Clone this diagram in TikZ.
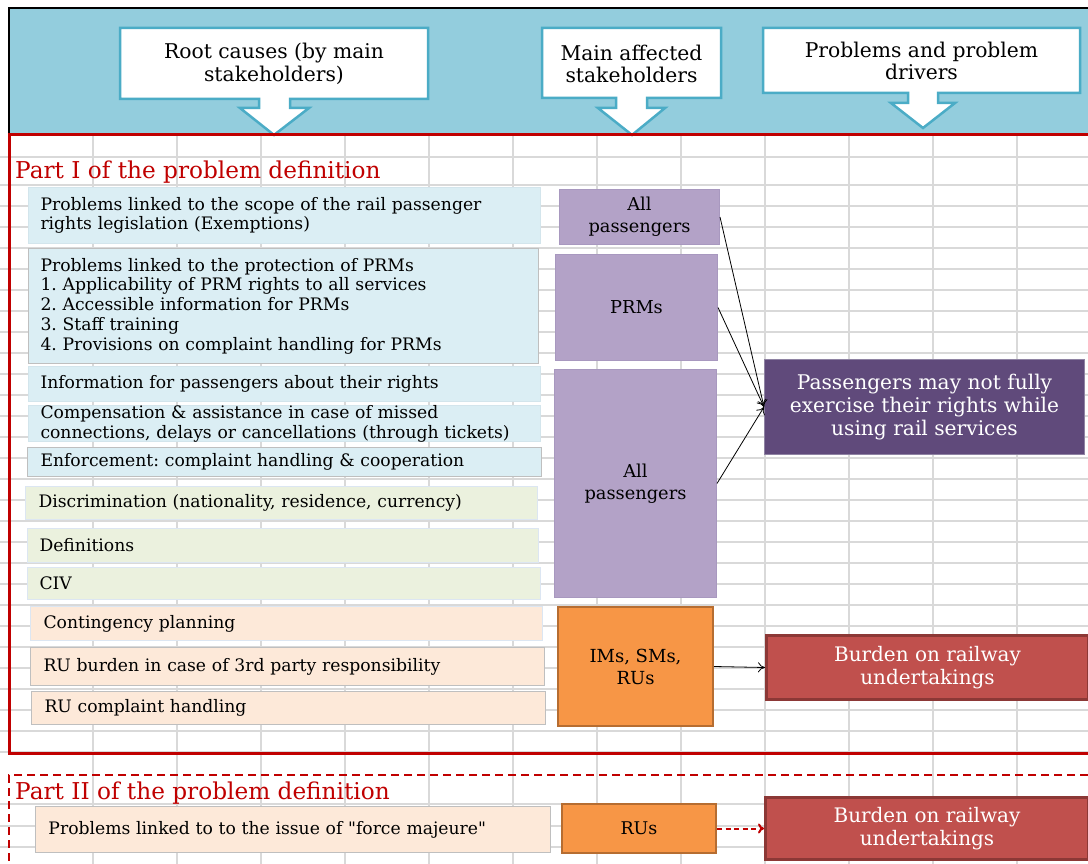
\documentclass[tikz,border=0pt]{standalone}
\usepackage{fontspec}
\setmainfont{DejaVu Serif}
\usetikzlibrary{arrows.meta}
\frenchspacing
\definecolor{hdrblue}{HTML}{93CDDD}
\definecolor{callblue}{HTML}{4BACC6}
\definecolor{partred}{HTML}{C00000}
\definecolor{gridgray}{HTML}{D9D9D9}
\definecolor{lblue}{HTML}{DBEEF4}
\definecolor{lblueedge}{HTML}{D3E5EC}
\definecolor{lgreen}{HTML}{EBF1DE}
\definecolor{lpeach}{HTML}{FDE9D9}
\definecolor{paleedge}{HTML}{DCE6F2}
\definecolor{lpurple}{HTML}{B3A2C7}
\definecolor{lpurpleedge}{HTML}{A898BF}
\definecolor{orng}{HTML}{F79646}
\definecolor{orngdk}{HTML}{B66D31}
\definecolor{dpurple}{HTML}{604A7B}
\definecolor{dpurpleedge}{HTML}{8F83A3}
\definecolor{rd}{HTML}{C0504D}
\definecolor{rddk}{HTML}{8C3836}
\definecolor{boxgray}{HTML}{BFBFBF}
\begin{document}
\frenchspacing
\begin{tikzpicture}[x=1pt,y=-1pt,
  gridline/.style={gridgray, line width=1.5pt},
  callout/.style={fill=white, draw=callblue, line width=2.5pt, line join=miter},
  hdr/.style={align=center, inner sep=0pt, font=\fontsize{20.3}{22.5}\selectfont},
  cause/.style={rectangle, anchor=north west, align=left, inner ysep=0pt, line width=1pt, font=\fontsize{17.2}{19.7}\selectfont},
  stake/.style={rectangle, anchor=north west, align=center, inner sep=0pt, fill=lpurple, draw=lpurpleedge, line width=1pt, font=\fontsize{17.8}{22}\selectfont},
  orbox/.style={rectangle, anchor=north west, align=center, inner sep=0pt, fill=orng, draw=orngdk, line width=2pt, font=\fontsize{18}{22}\selectfont},
  redbox/.style={rectangle, anchor=north west, align=center, inner sep=0pt, fill=rd, draw=rddk, line width=3pt, text=white, font=\fontsize{20}{23}\selectfont},
  parttitle/.style={anchor=base west, inner sep=0pt, text=partred, font=\fontsize{23.2}{26}\selectfont},
  conn/.style={black, line width=0.8pt, -{To[length=7pt,width=10pt]}},
  dconn/.style={partred, line width=2pt, dash pattern=on 5pt off 3.5pt, -{To[length=6pt,width=10pt]}}
]
\useasboundingbox (0,0) rectangle (1088,864);
\fill[white] (0,0) rectangle (1088,864);

% grid
\foreach \x in {93,177,...,1017} \draw[gridline] (\x,135) -- (\x,864);
\foreach \y in {157,185,206,227,...,752,804,826,847} \draw[gridline] (0,\y) -- (1088,\y);

% header band
\fill[hdrblue] (9,8) rectangle (1088,135);
\draw[black, line width=2pt] (1088,8) -- (9,8) -- (9,135);

% callouts
\draw[callout] (120,28) -- (428,28) -- (428,99) -- (290,99) -- (290,108) -- (309,108) -- (274,135) -- (240,108) -- (259,108) -- (259,99) -- (120,99) -- cycle;
\node[hdr] (h1) at (274,64) {Root causes (by main\\stakeholders)};
\draw[callout] (542,28) -- (721,28) -- (721,98) -- (647,98) -- (647,108) -- (665,108) -- (632,135) -- (598,108) -- (616,108) -- (616,98) -- (542,98) -- cycle;
\node[hdr] (h2) at (631.5,64) {Main affected\\stakeholders};
\draw[callout] (763,28) -- (1080,28) -- (1080,93) -- (938,93) -- (938,103) -- (955,103) -- (923,128) -- (891,103) -- (908,103) -- (908,93) -- (763,93) -- cycle;
\node[hdr] (h3) at (921.5,61) {Problems and problem\\drivers};

% frames
\draw[partred, line width=3pt] (1088,135) -- (9,135) -- (9,753) -- (1088,753);
\draw[partred, line width=2.5pt, dash pattern=on 8pt off 5pt] (1088,775) -- (9,775) -- (9,864);

% titles
\node[parttitle] (p1) at (15,179) {Part I of the problem definition};
\node[parttitle] (p2) at (15,799) {Part II of the problem definition};

% root causes
\node[cause, fill=lblue, draw=lblueedge, minimum height=56, text width=488, inner xsep=12] (scope) at (28,187) {Problems linked to the scope of the rail passenger\\rights legislation (Exemptions)};
\node[cause, fill=lblue, draw=boxgray, minimum height=115, text width=486, inner xsep=12] (prm) at (28,248) {Problems linked to the protection of PRMs\\1. Applicability of PRM rights to all services\\2. Accessible information for PRMs\\3. Staff training\\4. Provisions on complaint handling for PRMs};
\node[cause, fill=lblue, draw=lblueedge, minimum height=35, text width=488, inner xsep=12] (info) at (28,366) {Information for passengers about their rights};
\node[cause, fill=lblue, draw=lblueedge, minimum height=35, text width=488, inner xsep=12, font=\fontsize{17.2}{19.5}\selectfont] (comp) at (28,405) {Compensation \& assistance in case of missed\\connections, delays or cancellations (through tickets)};
\node[cause, fill=lblue, draw=boxgray, minimum height=29, text width=488, inner xsep=13] (enf) at (27,447) {Enforcement: complaint handling \& cooperation};
\node[cause, fill=lgreen, draw=paleedge, minimum height=33, text width=486, inner xsep=13] (disc) at (25,486) {Discrimination (nationality, residence, currency)};
\node[cause, fill=lgreen, draw=paleedge, minimum height=34, text width=487, inner xsep=12] (defs) at (27,528) {Definitions};
\node[cause, fill=lgreen, draw=paleedge, minimum height=32, text width=489, inner xsep=12] (civ) at (27,567) {CIV};
\node[cause, fill=lpeach, draw=paleedge, minimum height=34, text width=486, inner xsep=13] (cont) at (30,606) {Contingency planning};
\node[cause, fill=lpeach, draw=boxgray, minimum height=38, text width=488, inner xsep=13] (ruburden) at (30,647) {RU burden in case of 3rd party responsibility};
\node[cause, fill=lpeach, draw=boxgray, minimum height=33, text width=488, inner xsep=13] (rucompl) at (31,691) {RU complaint handling};
\node[cause, fill=lpeach, draw=boxgray, minimum height=46, text width=489, inner xsep=13] (force) at (35,806) {Problems linked to to the issue of \textquotedbl force majeure\textquotedbl};

% stakeholders
\node[stake, minimum width=160, minimum height=55] (ap1) at (559,189) {All\\passengers};
\node[stake, minimum width=162, minimum height=106] (prms) at (555,254) {PRMs};
\node[stake, minimum width=162, minimum height=228] (ap2) at (554,369) {All\\passengers};
\node[orbox, minimum width=155, minimum height=119] (ims) at (557,606) {IMs, SMs,\\RUs};
\node[orbox, minimum width=154, minimum height=49, font=\fontsize{17.5}{22}\selectfont] (rus) at (561,803) {RUs};

% problems
\node[rectangle, anchor=north west, align=center, inner sep=0pt, fill=dpurple, draw=dpurpleedge, line width=1pt, text=white, font=\fontsize{20.2}{23}\selectfont, minimum width=320, minimum height=95] (effect) at (764,359) {Passengers may not fully\\exercise their rights while\\using rail services};
\node[redbox, minimum width=322, minimum height=64] (burden1) at (765,634) {Burden on railway\\undertakings};
\node[redbox, minimum width=323, minimum height=62] (burden2) at (764,796) {Burden on railway\\undertakings};

% connectors
\draw[conn] (ap1.east) -- (effect.west);
\draw[conn] (prms.east) -- (effect.west);
\draw[conn] (ap2.east) -- (effect.west);
\draw[conn] (ims.east) -- (burden1.west);
\draw[dconn] (rus.east) -- (burden2.west);
\end{tikzpicture}
\end{document}
